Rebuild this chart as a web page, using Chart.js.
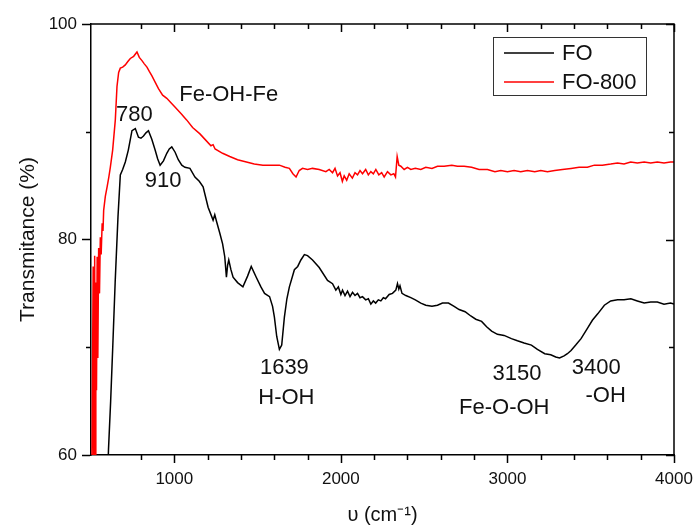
<!DOCTYPE html>
<html>
<head>
<meta charset="utf-8">
<title>FTIR FO / FO-800</title>
<script src="https://cdn.jsdelivr.net/npm/chart.js@4.4.1/dist/chart.umd.min.js"></script>
<style>
  body { margin: 0; background: #fff; }
  #wrap { width: 696px; height: 527px; }
</style>
</head>
<body>
<div id="wrap"><canvas id="ftirChart" width="696" height="527"></canvas></div>
<script>
// FTIR spectra, wavenumber (cm-1) vs transmittance (%)
const foWave = [598, 605, 618, 626, 630, 645, 662, 676, 690, 706, 724, 746, 766, 785, 800, 815, 830, 845, 865, 885,
    900, 915, 935, 955, 970, 985, 1005, 1024, 1045, 1064, 1094, 1124, 1150, 1173, 1203, 1233, 1243, 1255, 1273, 1290,
    1303, 1313, 1320, 1327, 1340, 1353, 1380, 1412, 1440, 1462, 1492, 1520, 1542, 1572, 1590, 1601, 1615, 1631, 1645, 1661,
    1676, 1691, 1721, 1741, 1760, 1781, 1800, 1830, 1870, 1920, 1950, 1970, 1985, 2000, 2010, 2025, 2040, 2055, 2070, 2085,
    2100, 2115, 2130, 2149, 2165, 2180, 2195, 2209, 2225, 2240, 2255, 2268, 2290, 2310, 2330, 2340, 2348, 2355, 2367, 2390,
    2420, 2447, 2480, 2510, 2547, 2580, 2610, 2646, 2680, 2710, 2746, 2780, 2810, 2845, 2875, 2905, 2940, 2980, 3024, 3060,
    3100, 3144, 3180, 3224, 3260, 3290, 3313, 3340, 3360, 3382, 3410, 3442, 3482, 3510, 3542, 3582, 3620, 3661, 3700, 3741,
    3780, 3821, 3860, 3900, 3940, 3979, 4000];
const foTrans = [57, 60.5, 65, 68.2, 69.8, 76, 82.1, 86.0, 86.5, 87.2, 88.3, 90.1, 90.3, 89.5, 89.4, 89.6, 89.9, 90.1, 89.3, 88.3,
    87.5, 86.9, 87.3, 88.0, 88.4, 88.6, 88.1, 87.4, 86.9, 86.7, 86.6, 85.8, 85.4, 84.9, 83.0, 81.8, 82.3, 81.6, 80.6, 79.6,
    78.4, 76.5, 77.6, 78.1, 77.2, 76.5, 76.0, 75.6, 76.6, 77.5, 76.5, 75.6, 75.0, 74.7, 73.8, 72.8, 71.0, 69.8, 70.2, 72.8,
    74.5, 75.6, 77.2, 77.5, 78.1, 78.6, 78.5, 78.1, 77.4, 76.2, 75.9, 75.3, 75.6, 74.9, 75.3, 74.8, 75.2, 74.7, 75.1, 74.8,
    75.0, 74.6, 74.7, 74.4, 74.5, 74.0, 74.3, 74.1, 74.4, 74.3, 74.6, 74.5, 74.9, 75.0, 75.3, 75.9, 75.4, 75.7, 75.0, 74.8,
    74.6, 74.4, 74.1, 73.9, 73.8, 73.9, 74.1, 74.1, 73.8, 73.5, 73.3, 72.9, 72.6, 72.4, 71.9, 71.5, 71.2, 71.1, 70.8, 70.6,
    70.4, 70.2, 69.8, 69.4, 69.3, 69.1, 69.0, 69.2, 69.4, 69.7, 70.2, 70.8, 71.8, 72.5, 73.1, 73.9, 74.3, 74.4, 74.4, 74.5,
    74.3, 74.1, 74.2, 74.2, 74.0, 74.1, 74.0];

const fo800Wave = [505, 510, 513, 516, 519, 522, 525, 529, 533, 537, 541, 546, 551, 556, 561, 567, 572, 576, 586, 597,
    607, 616, 630, 646, 656, 666, 676, 690, 706, 720, 736, 756, 776, 790, 806, 820, 836, 850, 865, 885,
    905, 930, 955, 980, 1004, 1040, 1074, 1110, 1154, 1190, 1220, 1233, 1245, 1290, 1333, 1380, 1433, 1480, 1532, 1580,
    1631, 1665, 1691, 1712, 1731, 1750, 1770, 1800, 1830, 1870, 1910, 1930, 1950, 1965, 1980, 1995, 2009, 2020, 2035, 2050,
    2069, 2085, 2100, 2115, 2130, 2149, 2165, 2180, 2195, 2210, 2228, 2245, 2260, 2280, 2300, 2318, 2328, 2338, 2348, 2360,
    2380, 2400, 2420, 2447, 2480, 2510, 2547, 2580, 2620, 2666, 2700, 2740, 2785, 2830, 2880, 2925, 2960, 3000, 3040, 3080,
    3120, 3164, 3200, 3240, 3284, 3330, 3382, 3430, 3480, 3522, 3570, 3620, 3661, 3700, 3740, 3780, 3821, 3860, 3900, 3940,
    3979, 4000];
const fo800Trans = [57, 70, 77.5, 58, 72, 78.5, 60, 76, 66, 78.4, 69, 79.2, 75, 80.2, 78.6, 81.5, 80.8, 82.7, 84, 84.9,
    85.8, 86.7, 88.3, 91.1, 94.2, 95.5, 95.9, 96.0, 96.2, 96.5, 96.8, 97.0, 97.4, 96.9, 96.6, 96.3, 96.0, 95.6, 95.2, 94.6,
    94.0, 93.4, 93.1, 92.7, 92.3, 91.7, 91.1, 90.4, 89.8, 89.2, 88.7, 88.8, 88.4, 88.0, 87.7, 87.4, 87.2, 87.0, 86.9, 86.9,
    86.9, 86.7, 86.6, 86.1, 85.8, 86.4, 86.6, 86.5, 86.6, 86.5, 86.3, 86.5, 86.2, 86.6, 85.9, 86.2, 85.4, 85.9, 85.5, 86.1,
    85.7, 86.2, 86.0, 86.4, 86.1, 86.5, 86.0, 86.3, 86.1, 86.5, 86.0, 86.2, 85.8, 86.3, 86.0, 86.1, 85.8, 87.7, 86.9, 86.8,
    86.5, 86.7, 86.5, 86.6, 86.5, 86.7, 86.6, 86.8, 86.8, 86.9, 86.8, 86.8, 86.7, 86.5, 86.5, 86.3, 86.4, 86.3, 86.4, 86.3,
    86.4, 86.3, 86.4, 86.3, 86.4, 86.5, 86.6, 86.7, 86.7, 86.9, 86.9, 87.0, 87.1, 87.0, 87.2, 87.1, 87.2, 87.1, 87.2, 87.1,
    87.2, 87.2];

const seriesNames = ['FO', 'FO-800'];
const seriesColors = ['#000000', '#ff0000'];

const xTickLabels = [1000, 2000, 3000, 4000];
const yTickLabels = [60, 80, 100];

// band assignments written on the plot (wavenumber, transmittance)
const peakText = ['780', 'Fe-OH-Fe', '910', '1639', 'H-OH', '3150', 'Fe-O-OH', '3400', '-OH'];
const peakWave = [760, 1327, 933, 1661, 1673, 3058, 2981, 3533, 3590];
const peakTrans = [91.6, 93.4, 85.4, 68.1, 65.3, 67.5, 64.4, 68.1, 65.5];

const FONT = '"Liberation Sans", Arial, sans-serif';

function toPoints(xs, ys) {
    return xs.map((v, i) => ({ x: v, y: ys[i] }));
}

// frame, tick marks, band labels and legend drawn after the datasets
const decorations = {
    id: 'decorations',
    afterDraw(chart) {
        const { ctx, chartArea: { left, right, top, bottom }, scales: { x, y } } = chart;
        ctx.save();
        ctx.strokeStyle = '#000';
        ctx.lineWidth = 1.5;

        ctx.beginPath();
        ctx.moveTo(left, top);
        ctx.lineTo(right, top);
        ctx.lineTo(right, bottom);
        ctx.stroke();

        ctx.beginPath();
        x.ticks.forEach(t => {
            if (t.value <= 500) return;
            const px = Math.round(x.getPixelForValue(t.value)) + 0.5;
            const major = t.value % 1000 === 0;
            ctx.moveTo(px, bottom);
            ctx.lineTo(px, bottom + (major ? 8 : 5));
            ctx.moveTo(px, top);
            ctx.lineTo(px, top + (major ? 8 : 5));
        });
        y.ticks.forEach(t => {
            const py = Math.round(y.getPixelForValue(t.value)) + 0.5;
            const major = t.value % 20 === 0;
            if (!major) {
                ctx.moveTo(left - 5, py);
                ctx.lineTo(left, py);
            }
            ctx.moveTo(right, py);
            ctx.lineTo(right - (major ? 8 : 5), py);
        });
        ctx.stroke();

        ctx.fillStyle = '#111';
        ctx.font = '22px ' + FONT;
        ctx.textAlign = 'center';
        ctx.textBaseline = 'middle';
        peakText.forEach((txt, i) => {
            ctx.fillText(txt, x.getPixelForValue(peakWave[i]), y.getPixelForValue(peakTrans[i]));
        });

        // legend box
        const bx = right - 181, by = top + 13;
        ctx.lineWidth = 1;
        ctx.strokeStyle = '#333';
        ctx.strokeRect(bx + 0.5, by + 0.5, 153, 58);
        ctx.font = '22px ' + FONT;
        ctx.textAlign = 'left';
        seriesNames.forEach((name, i) => {
            const ly = by + 16 + i * 29;
            ctx.strokeStyle = seriesColors[i];
            ctx.lineWidth = 1.5;
            ctx.beginPath();
            ctx.moveTo(bx + 11, ly);
            ctx.lineTo(bx + 61, ly);
            ctx.stroke();
            ctx.fillStyle = '#111';
            ctx.fillText(name, bx + 69, ly + 1);
        });
        ctx.restore();
    }
};

new Chart(document.getElementById('ftirChart'), {
    type: 'line',
    data: {
        datasets: [
            {
                label: seriesNames[0],
                data: toPoints(foWave, foTrans),
                borderColor: seriesColors[0],
                borderWidth: 1.5,
                pointRadius: 0,
                tension: 0
            },
            {
                label: seriesNames[1],
                data: toPoints(fo800Wave, fo800Trans),
                borderColor: seriesColors[1],
                borderWidth: 1.5,
                pointRadius: 0,
                tension: 0
            }
        ]
    },
    options: {
        responsive: false,
        animation: false,
        layout: { padding: { left: 0, right: 22, top: 24, bottom: 0 } },
        plugins: {
            legend: { display: false },
            tooltip: { enabled: false }
        },
        scales: {
            x: {
                type: 'linear',
                min: 500,
                max: 4000,
                afterFit: scale => { scale.height = 72; },
                border: { color: '#000', width: 1.5 },
                grid: {
                    drawOnChartArea: false,
                    tickLength: 11,
                    tickColor: 'rgba(0,0,0,0)'
                },
                ticks: {
                    stepSize: 200,
                    autoSkip: false,
                    maxRotation: 0,
                    padding: 3,
                    color: '#111',
                    font: { family: FONT, size: 17 },
                    callback: v => xTickLabels.includes(v) ? String(v) : ''
                },
                title: {
                    display: true,
                    text: 'υ (cm⁻¹)',
                    color: '#111',
                    padding: 0,
                    font: { family: FONT, size: 20 }
                }
            },
            y: {
                min: 60,
                max: 100,
                afterFit: scale => { scale.width = 91; },
                border: { color: '#000', width: 1.5 },
                grid: {
                    drawOnChartArea: false,
                    tickLength: 9,
                    tickWidth: 1.5,
                    tickColor: c => (c.tick && yTickLabels.includes(c.tick.value)) ? '#000' : 'rgba(0,0,0,0)'
                },
                ticks: {
                    stepSize: 10,
                    autoSkip: false,
                    padding: 5,
                    color: '#111',
                    font: { family: FONT, size: 17 },
                    callback: v => yTickLabels.includes(v) ? String(v) : ''
                },
                title: {
                    display: true,
                    text: 'Transmitance (%)',
                    color: '#111',
                    padding: 16,
                    font: { family: FONT, size: 21 }
                }
            }
        }
    },
    plugins: [decorations]
});
</script>
</body>
</html>
